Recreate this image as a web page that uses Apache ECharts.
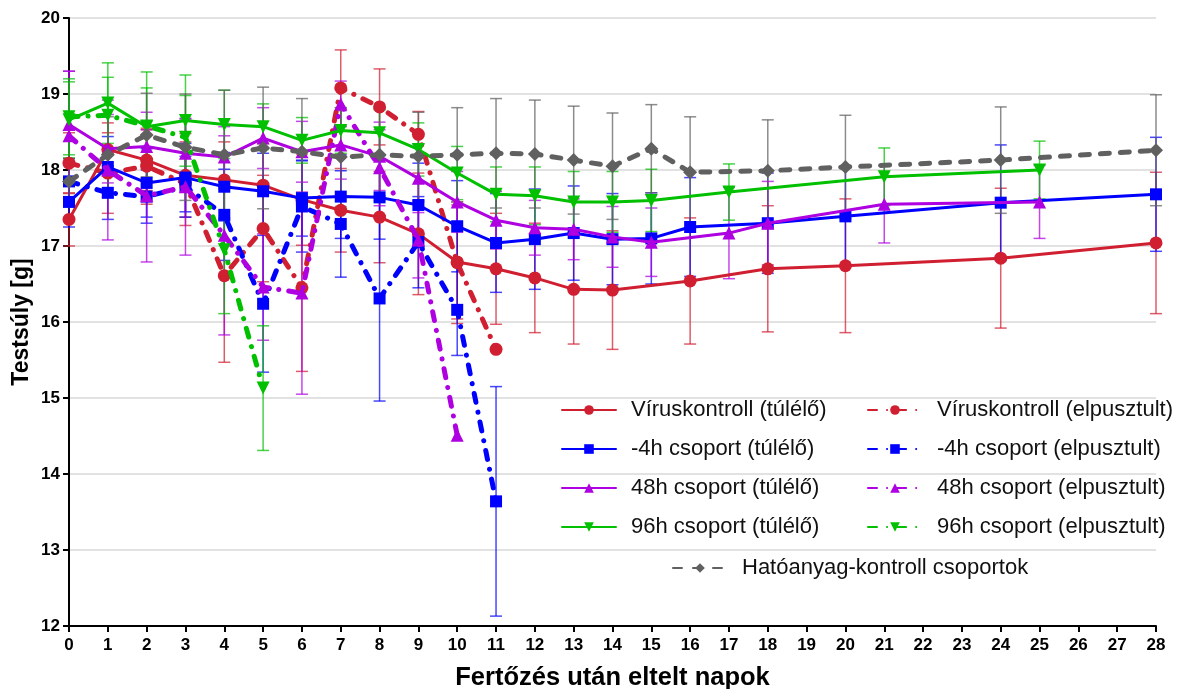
<!DOCTYPE html>
<html>
<head>
<meta charset="utf-8">
<script src="https://cdn.jsdelivr.net/npm/echarts@6/dist/echarts.min.js"></script>
<style>
  html, body { margin: 0; padding: 0; background: #fff; }
  #chart { width: 1186px; height: 689px; }
</style>
</head>
<body>
<div id="chart"></div>
<script>
// Body weight (mean ± SD) by days post infection, per group

// Víruskontroll (túlélő)
const vkSurvDays = [0,1,2,3,4,5,6,7,8,9,10,11,12,13,14,16,18,20,24,28];
const vkSurvMean = [17.35,18.27,18.13,17.93,17.87,17.80,17.61,17.47,17.38,17.16,16.79,16.70,16.58,16.43,16.42,16.54,16.70,16.74,16.84,17.04];
const vkSurvSd   = [0.35,0.35,0.40,0.55,0.50,0.55,0.60,0.55,0.60,0.80,0.75,0.73,0.72,0.72,0.78,0.83,0.83,0.88,0.92,0.93];

// Víruskontroll (elpusztult)
const vkDeadDays = [0,1,2,3,4,5,6,7,8,9,10,11];
const vkDeadMean = [18.09,17.96,18.05,17.82,16.61,17.23,16.45,19.08,18.83,18.47,16.78,15.64];
const vkDeadSd   = [0.40,0.53,0.50,0.55,1.14,0.70,1.10,0.50,0.50,0.30,0.80,0];

// -4h csoport (túlélő)
const h4SurvDays = [0,1,2,3,4,5,6,7,8,9,10,11,12,13,14,15,16,18,20,24,28];
const h4SurvMean = [17.58,18.04,17.83,17.90,17.78,17.72,17.63,17.65,17.64,17.54,17.26,17.04,17.09,17.17,17.09,17.10,17.25,17.30,17.39,17.57,17.68];
const h4SurvSd   = [0.33,0.40,0.45,0.45,0.45,0.50,0.50,0.55,0.55,0.55,0.60,0.65,0.66,0.62,0.60,0.60,0.65,0.66,0.65,0.76,0.75];

// -4h csoport (elpusztult)
const h4DeadDays = [0,1,2,3,4,5,6,7,8,9,10,11];
const h4DeadMean = [17.85,17.70,17.65,17.78,17.41,16.24,17.52,17.29,16.31,17.05,16.16,13.64];
const h4DeadSd   = [0.30,0.35,0.35,0.40,0.60,0.90,0.60,0.70,1.35,0.60,0.60,1.51];

// 48h csoport (túlélő)
const h48SurvDays = [0,1,2,3,4,5,6,7,8,9,10,11,12,13,14,15,17,18,21,25];
const h48SurvMean = [18.60,18.28,18.31,18.22,18.17,18.42,18.24,18.33,18.18,17.89,17.58,17.34,17.24,17.22,17.12,17.05,17.17,17.30,17.55,17.58];
const h48SurvSd   = [0.70,0.45,0.45,0.45,0.40,0.40,0.40,0.45,0.45,0.45,0.40,0.38,0.36,0.40,0.40,0.45,0.60,0.55,0.51,0.48];

// 48h csoport (elpusztult)
const h48DeadDays = [0,1,2,3,4,5,6,7,8,9,10];
const h48DeadMean = [18.45,18.00,17.66,17.78,17.14,16.46,16.38,18.87,18.03,17.08,14.51];
const h48DeadSd   = [0.85,0.92,0.87,0.90,1.31,0.70,1.33,0.30,0.50,0.50,0];

// 96h csoport (túlélő)
const h96SurvDays = [0,1,2,3,4,5,6,7,8,9,10,11,12,13,14,15,17,21,25];
const h96SurvMean = [18.66,18.88,18.57,18.65,18.60,18.57,18.39,18.52,18.49,18.27,17.96,17.68,17.66,17.58,17.58,17.60,17.71,17.91,18.00];
const h96SurvSd   = [0.50,0.53,0.72,0.60,0.45,0.30,0.30,0.30,0.30,0.35,0.35,0.36,0.38,0.40,0.40,0.41,0.37,0.38,0.38];

// 96h csoport (elpusztult)
const h96DeadDays = [0,1,2,3,4,5];
const h96DeadMean = [18.70,18.72,18.58,18.43,16.95,15.13];
const h96DeadSd   = [0.50,0.50,0.50,0.55,0.84,0.82];

// Hatóanyag-kontroll csoportok
const ctrlDays = [0,1,2,3,4,5,6,7,8,9,10,11,12,13,14,15,16,18,20,24,28];
const ctrlMean = [17.85,18.20,18.46,18.30,18.20,18.29,18.24,18.17,18.20,18.18,18.20,18.22,18.21,18.13,18.05,18.28,17.97,17.99,18.04,18.13,18.26];
const ctrlSd   = [0.30,0.50,0.55,0.70,0.85,0.80,0.70,0.65,0.60,0.58,0.62,0.72,0.71,0.71,0.70,0.58,0.73,0.67,0.68,0.70,0.73];

const xTicks = [0,1,2,3,4,5,6,7,8,9,10,11,12,13,14,15,16,17,18,19,20,21,22,23,24,25,26,27,28];
const yTicks = [12,13,14,15,16,17,18,19,20];

const RED = '#D01F31', BLUE = '#0000FF', PURPLE = '#AE00E0', GREEN = '#00C000', GRAY = '#606060';
const DASHDOT = [9, 10, 0.1, 10];
const FONT = '"Liberation Sans", Arial, sans-serif';

const groups = [
  { name: 'Víruskontroll (túlélő)', days: vkSurvDays, mean: vkSurvMean, sd: vkSurvSd, color: RED, symbol: 'circle', size: 13, dash: 'solid', width: 3 },
  { name: 'Víruskontroll (elpusztult)', days: vkDeadDays, mean: vkDeadMean, sd: vkDeadSd, color: RED, symbol: 'circle', size: 13, dash: DASHDOT, width: 5 },
  { name: '-4h csoport (túlélő)', days: h4SurvDays, mean: h4SurvMean, sd: h4SurvSd, color: BLUE, symbol: 'rect', size: 12, dash: 'solid', width: 3 },
  { name: '-4h csoport (elpusztult)', days: h4DeadDays, mean: h4DeadMean, sd: h4DeadSd, color: BLUE, symbol: 'rect', size: 12, dash: DASHDOT, width: 5 },
  { name: '48h csoport (túlélő)', days: h48SurvDays, mean: h48SurvMean, sd: h48SurvSd, color: PURPLE, symbol: 'triangle', size: 13, dash: 'solid', width: 3 },
  { name: '48h csoport (elpusztult)', days: h48DeadDays, mean: h48DeadMean, sd: h48DeadSd, color: PURPLE, symbol: 'triangle', size: 13, dash: DASHDOT, width: 5 },
  { name: '96h csoport (túlélő)', days: h96SurvDays, mean: h96SurvMean, sd: h96SurvSd, color: GREEN, symbol: 'path://M0,0 L10,0 L5,10 Z', size: 13, dash: 'solid', width: 3 },
  { name: '96h csoport (elpusztult)', days: h96DeadDays, mean: h96DeadMean, sd: h96DeadSd, color: GREEN, symbol: 'path://M0,0 L10,0 L5,10 Z', size: 13, dash: DASHDOT, width: 5 },
  { name: 'Hatóanyag-kontroll csoportok', days: ctrlDays, mean: ctrlMean, sd: ctrlSd, color: GRAY, symbol: 'diamond', size: 14, dash: [9, 11], width: 5 }
];

function hexToRgba(hex, a) {
  const n = parseInt(hex.slice(1), 16);
  return 'rgba(' + ((n >> 16) & 255) + ',' + ((n >> 8) & 255) + ',' + (n & 255) + ',' + a + ')';
}

const series = [];

// error bars (drawn beneath the lines)
groups.forEach(g => {
  const data = g.days.map((d, i) => [d, g.mean[i] - g.sd[i], g.mean[i] + g.sd[i]]).filter(r => r[2] > r[1]);
  series.push({
    type: 'custom',
    name: g.name + ' SD',
    z: 1,
    silent: true,
    data: data,
    encode: { x: 0, y: [1, 2] },
    renderItem: function (params, api) {
      const x = api.value(0);
      const lo = api.coord([x, api.value(1)]);
      const hi = api.coord([x, api.value(2)]);
      const half = 6;
      const style = { stroke: hexToRgba(g.color, 0.72), lineWidth: 1.5 };
      return {
        type: 'group',
        children: [
          { type: 'line', shape: { x1: lo[0], y1: lo[1], x2: hi[0], y2: hi[1] }, style: style },
          { type: 'line', shape: { x1: lo[0] - half, y1: lo[1], x2: lo[0] + half, y2: lo[1] }, style: style },
          { type: 'line', shape: { x1: hi[0] - half, y1: hi[1], x2: hi[0] + half, y2: hi[1] }, style: style }
        ]
      };
    }
  });
});

// mean lines
groups.forEach((g, k) => {
  series.push({
    type: 'line',
    name: g.name,
    z: 3 + k,
    data: g.days.map((d, i) => [d, g.mean[i]]),
    symbol: g.symbol,
    symbolSize: g.size,
    showAllSymbol: true,
    itemStyle: { color: g.color },
    lineStyle: { color: g.color, width: g.width, type: g.dash, cap: 'round' },
    emphasis: { disabled: true }
  });
});

const legendText = { fontFamily: FONT, fontSize: 22, color: '#111', padding: [0, 0, 0, 10] };
const legendBase = {
  orient: 'vertical',
  itemWidth: 54,
  itemHeight: 12,
  itemGap: 17,
  textStyle: legendText,
  selectedMode: false
};

const option = {
  animation: false,
  backgroundColor: '#fff',
  grid: { left: 69, right: 30, top: 18, bottom: 63, containLabel: false, outerBoundsMode: 'none' },
  xAxis: {
    type: 'value',
    min: xTicks[0],
    max: xTicks[xTicks.length - 1],
    interval: 1,
    name: 'Fertőzés után eltelt napok',
    nameLocation: 'middle',
    nameGap: 39,
    nameMoveOverlap: false,
    nameTextStyle: { fontFamily: FONT, fontSize: 25.5, fontWeight: 'bold', color: '#000' },
    axisLine: { show: true, onZero: false, lineStyle: { color: '#000', width: 2 } },
    axisTick: { show: true, length: 6, lineStyle: { color: '#000', width: 2 } },
    axisLabel: { fontFamily: FONT, fontSize: 17, fontWeight: 'bold', color: '#000', margin: 11 },
    splitLine: { show: false }
  },
  yAxis: {
    type: 'value',
    min: yTicks[0],
    max: yTicks[yTicks.length - 1],
    interval: 1,
    name: 'Testsúly [g]',
    nameLocation: 'middle',
    nameGap: 36,
    nameMoveOverlap: false,
    nameTextStyle: { fontFamily: FONT, fontSize: 23, fontWeight: 'bold', color: '#000' },
    axisLine: { show: true, lineStyle: { color: '#000', width: 2 } },
    axisTick: { show: true, length: 6, lineStyle: { color: '#000', width: 2 } },
    axisLabel: { fontFamily: FONT, fontSize: 17, fontWeight: 'bold', color: '#000', margin: 9 },
    splitLine: { show: true, lineStyle: { color: '#d9d9d9', width: 1.5 } }
  },
  legend: [
    Object.assign({}, legendBase, {
      left: 556, top: 394,
      data: [groups[0].name, groups[2].name, groups[4].name, groups[6].name]
    }),
    Object.assign({}, legendBase, {
      left: 862, top: 394,
      data: [groups[1].name, groups[3].name, groups[5].name, groups[7].name]
    }),
    Object.assign({}, legendBase, {
      left: 667, top: 552,
      data: [groups[8].name]
    })
  ],
  series: series
};

const chart = echarts.init(document.getElementById('chart'), null, { renderer: 'canvas' });
chart.setOption(option);
</script>
</body>
</html>
